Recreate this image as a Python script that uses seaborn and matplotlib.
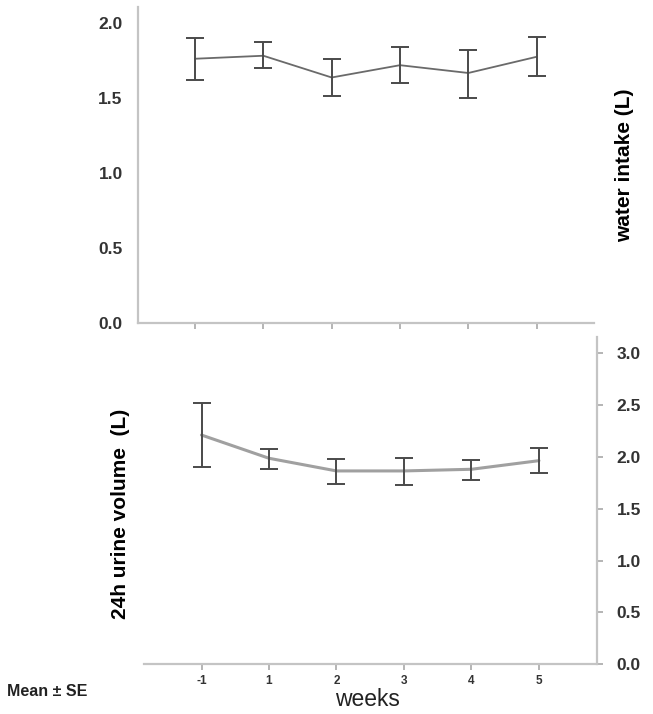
import numpy as np
import seaborn as sns
import matplotlib.pyplot as plt

# weeks and values (mean, lower / upper end of SE bar)
weeks = ['-1', '1', '2', '3', '4', '5']
water_mean = [1.76, 1.78, 1.635, 1.717, 1.665, 1.773]
water_lo = [1.62, 1.70, 1.51, 1.60, 1.50, 1.645]
water_hi = [1.90, 1.87, 1.756, 1.84, 1.82, 1.905]

urine_mean = [2.21, 1.986, 1.864, 1.864, 1.88, 1.963]
urine_lo = [1.906, 1.886, 1.742, 1.726, 1.78, 1.842]
urine_hi = [2.517, 2.076, 1.977, 1.992, 1.97, 2.086]

sns.set_style('white')
plt.rcParams['font.family'] = ['Liberation Sans', 'DejaVu Sans']

spine_col = '#c4c4c4'
text_col = '#333333'
bar_col = '#4a4a4a'

fig = plt.figure(figsize=(6.53, 7.14), dpi=100)
ax1 = fig.add_axes([138 / 653, 1 - 322.7 / 714, 456 / 653, 315.7 / 714])
ax2 = fig.add_axes([144 / 653, 1 - 664.3 / 714, 453 / 653, 327.3 / 714])

pos = np.arange(len(weeks))

# top: water intake
sns.lineplot(x=pos, y=water_mean, color='#6a6a6a', linewidth=1.3, ax=ax1)
ax1.errorbar(pos, water_mean,
             yerr=[np.array(water_mean) - np.array(water_lo), np.array(water_hi) - np.array(water_mean)],
             fmt='none', ecolor=bar_col, elinewidth=1.4, capsize=6.3, capthick=1.4)
ax1.set_xlim(-0.835, 5.84)
ax1.set_ylim(0, 2.105)
ax1.set_yticks([0.0, 0.5, 1.0, 1.5, 2.0])
ax1.set_yticklabels(['0.0', '0.5', '1.0', '1.5', '2.0'])
ax1.set_xticks(pos)
ax1.set_xticklabels([])
sns.despine(ax=ax1, top=True, right=True)
ax1.set_ylabel('water intake (L)', fontsize=15, fontweight='bold', color='black',
               ha='center', va='center')
ax1.yaxis.set_label_coords(1.068, 0.5)

# bottom: 24h urine volume
sns.lineplot(x=pos, y=urine_mean, color='#a0a0a0', linewidth=2.2, ax=ax2)
ax2.errorbar(pos, urine_mean,
             yerr=[np.array(urine_mean) - np.array(urine_lo), np.array(urine_hi) - np.array(urine_mean)],
             fmt='none', ecolor=bar_col, elinewidth=1.4, capsize=6.3, capthick=1.4)
ax2.set_xlim(-0.852, 5.86)
ax2.set_ylim(0, 3.155)
ax2.set_yticks([0.0, 0.5, 1.0, 1.5, 2.0, 2.5, 3.0])
ax2.set_yticklabels(['0.0', '0.5', '1.0', '1.5', '2.0', '2.5', '3.0'])
ax2.yaxis.tick_right()
ax2.set_xticks(pos)
ax2.set_xticklabels(weeks)
sns.despine(ax=ax2, top=True, left=True, right=False)
ax2.set_ylabel('24h urine volume  (L)', fontsize=15, fontweight='bold', color='black',
               ha='center', va='center')
ax2.yaxis.set_label_coords(-0.051, 0.461)
ax2.set_xlabel('weeks', fontsize=16.5, color='#222222', ha='center', va='center')
ax2.xaxis.set_label_coords(0.493, -0.109)

for ax in (ax1, ax2):
    for s in ax.spines.values():
        s.set_color(spine_col)
        s.set_linewidth(1.6)
    ax.tick_params(axis='both', which='both', length=4, width=1.2, color='#a8a8a8',
                   direction='out')
    ax.tick_params(axis='y', labelsize=12.5, labelcolor=text_col, pad=7)
    for lab in ax.get_yticklabels():
        lab.set_fontweight('bold')
    ax.grid(False)

ax1.tick_params(axis='x', bottom=True)
ax2.tick_params(axis='x', bottom=True, labelsize=8.5, labelcolor=text_col, pad=4)
ax2.tick_params(axis='y', right=True, left=False, pad=10)
for lab in ax2.get_xticklabels():
    lab.set_fontweight('bold')

fig.text(7 / 653, 1 - 692 / 714, 'Mean ± SE', fontsize=11.5, fontweight='bold',
         color='#222222', ha='left', va='center')

plt.savefig('out.png', dpi=100)
